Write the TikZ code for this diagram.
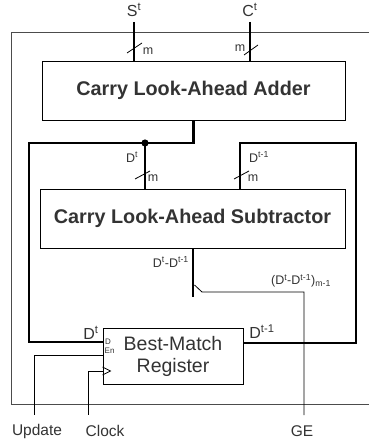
\documentclass[tikz,border=0pt]{standalone}
\usepackage{fontspec}
\setmainfont{Liberation Sans}
\usetikzlibrary{calc}
\definecolor{txt}{HTML}{333333}
\begin{document}
\begin{tikzpicture}[x=1pt,y=-1pt,
  box/.style={draw, line width=0.9pt, inner sep=0pt, text=txt},
  bus/.style={line width=2.8pt},
  wire/.style={line width=0.8pt},
  slash/.style={line width=0.8pt},
  frame/.style={line width=0.9pt, black!70},
  lbl/.style={inner sep=0pt, text=txt},
  big/.style={font=\fontsize{16}{18}\selectfont},
  sml/.style={font=\fontsize{12.5}{14}\selectfont},
  tiny/.style={font=\fontsize{8}{9}\selectfont},
]
\useasboundingbox (0,0) rectangle (369,446);
% outer frame
\draw[frame] (369,32) -- (11,32) -- (11,404) -- (369,404);

% blocks
\node[box, minimum width=303pt, minimum height=59pt, font=\bfseries\fontsize{19.8}{22}\selectfont] (adder) at (193.5,90.5) {Carry Look-Ahead Adder};
\node[box, minimum width=305pt, minimum height=59pt, font=\bfseries\fontsize{19.8}{22}\selectfont] (sub) at (192.5,218.5) {Carry Look-Ahead Subtractor};
\node[box, minimum width=140pt, minimum height=56pt, align=center, font=\fontsize{19.5}{22}\selectfont] (reg) at (173,356) {Best-Match\\Register};

% inputs
\node[lbl, big] (St) at (134,10) {S\textsuperscript{t}};
\node[lbl, big] (Ct) at (250,10) {C\textsuperscript{t}};
\coordinate (sIn) at (134,22);
\coordinate (cIn) at (250,22);
\draw[bus] (sIn) -- (sIn |- adder.north);
\draw[bus] (cIn) -- (cIn |- adder.north);
\draw[slash] (127,53) -- (142,43);
\node[lbl, sml] (m1) at (148,51) {m};
\draw[slash] (244,55) -- (258,45);
\node[lbl, sml] (m2) at (240,48) {m};

% adder output D^t
\coordinate (j) at (145,143);
\draw[bus] (adder.south) |- (j);
\draw[bus] (j) -- (j |- sub.north);
\coordinate (dIn) at ($(reg.west)+(0,-14)$);
\draw[bus] (j) -- (29,143) |- (dIn);
\fill (j) circle (3.6pt);
\node[lbl, sml] (Dt1) at (132,157) {D\textsuperscript{t}};
\draw[slash] (135,179) -- (150,171);
\node[lbl, sml] (m3) at (153,178) {m};

% D^{t-1} loop
\coordinate (dOut) at ($(reg.east)+(0,-13)$);
\coordinate (sIn2) at (240,189);
\draw[bus] (dOut) -| (356,143) -- (240,143) -- (sIn2);
\node[lbl, sml] (Dtm1) at (259,157) {D\textsuperscript{t-1}};
\draw[slash] (234,179) -- (249,171);
\node[lbl, sml] (m4) at (253,178) {m};

% subtractor output
\coordinate (so) at (193,297);
\draw[bus] (sub.south -| so) -- (so);
\node[lbl, sml, anchor=east] (diff) at (189,262) {D\textsuperscript{t}-D\textsuperscript{t-1}};
\coordinate (geEnd) at (304,415);
\draw[wire] (194.5,285) -- (202,292) -| (geEnd);
\node[lbl, sml] (msb) at (301,281) {(D\textsuperscript{t}-D\textsuperscript{t-1})\textsubscript{m-1}};

% register labels
\node[lbl, big] (DtR) at (91,333) {D\textsuperscript{t}};
\node[lbl, big] (DtmR) at (262,332) {D\textsuperscript{t-1}};
\node[lbl, tiny, anchor=west] (pD) at (105,342) {D};
\node[lbl, tiny, anchor=west] (pEn) at (104.5,351) {En};

% control inputs
\coordinate (enIn) at ($(reg.west)+(0,-1)$);
\coordinate (clkIn) at ($(reg.west)+(0,15)$);
\coordinate (upEnd) at (34,415);
\coordinate (ckEnd) at (88,415);
\draw[wire] (enIn) -| (upEnd);
\draw[wire] (clkIn) -| (ckEnd);
\draw[wire] ($(clkIn)+(0,-4)$) -- ($(clkIn)+(8,0)$) -- ($(clkIn)+(0,4)$);

\node[lbl, font=\fontsize{15.5}{17}\selectfont] (up) at (37,431) {Update};
\node[lbl, font=\fontsize{15.5}{17}\selectfont] (ck) at (105,431) {Clock};
\node[lbl, font=\fontsize{15.5}{17}\selectfont] (ge) at (302,431) {GE};
\end{tikzpicture}
\end{document}
